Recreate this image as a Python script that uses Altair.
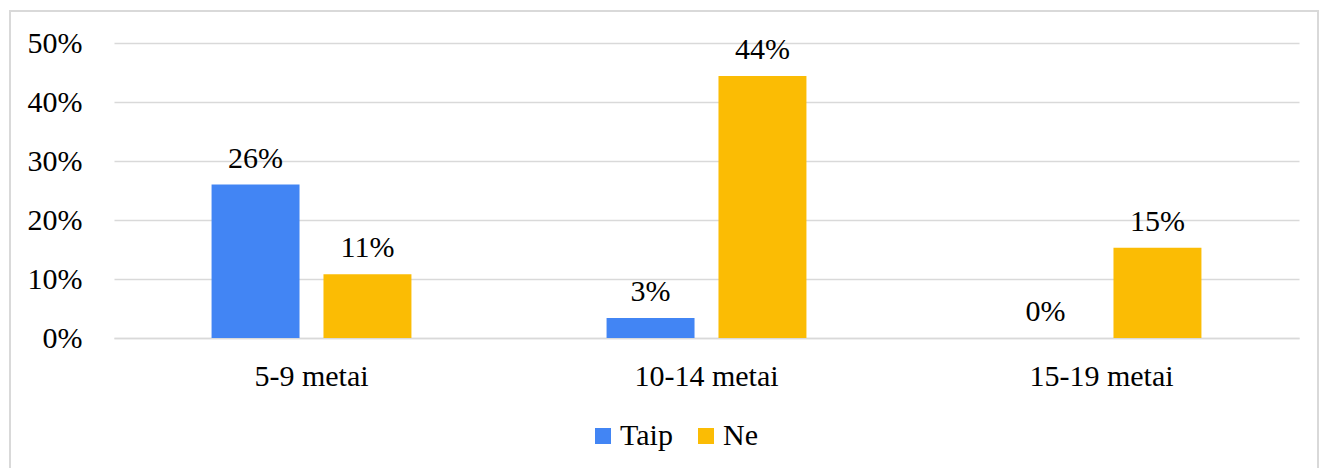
import altair as alt
import pandas as pd

categories = ["5-9 metai", "10-14 metai", "15-19 metai"]
series = ["Taip", "Ne"]
taip = [0.26, 0.034, 0.0]
ne = [0.108, 0.444, 0.153]
labels_taip = ["26%", "3%", "0%"]
labels_ne = ["11%", "44%", "15%"]
colors = ["#4285F4", "#FBBC04"]

rows = []
for i, c in enumerate(categories):
    rows.append({"cat": c, "series": "Taip", "value": taip[i], "label": labels_taip[i]})
    rows.append({"cat": c, "series": "Ne", "value": ne[i], "label": labels_ne[i]})
df = pd.DataFrame(rows)

FONT = "Liberation Serif"
FS = 30

x = alt.X("cat:N", sort=categories, title=None,
          scale=alt.Scale(paddingInner=0.494, paddingOuter=0.247),
          axis=alt.Axis(labelAngle=0, labelFontSize=FS, labelFont=FONT, labelColor="black",
                        ticks=False, domain=True, domainColor="#d9d9d9", domainWidth=1.5,
                        labelPadding=23))
xo = alt.XOffset("series:N", sort=series,
                 scale=alt.Scale(paddingInner=0.214, paddingOuter=0))
y = alt.Y("value:Q", title=None,
          scale=alt.Scale(domain=[0, 0.5], nice=False),
          axis=alt.Axis(format=".0%", values=[0, 0.1, 0.2, 0.3, 0.4, 0.5],
                        labelFontSize=FS, labelFont=FONT, labelColor="black",
                        ticks=False, domain=False, gridColor="#d9d9d9", gridWidth=1.5,
                        labelPadding=32))

bars = alt.Chart(df).mark_bar().encode(
    x=x, xOffset=xo, y=y,
    color=alt.Color("series:N", sort=series,
                    scale=alt.Scale(domain=series, range=colors),
                    legend=alt.Legend(title=None, orient="none", direction="horizontal",
                                      legendX=474, legendY=378,
                                      symbolType="square", symbolSize=256,
                                      symbolStrokeWidth=0, labelFont=FONT,
                                      labelFontSize=FS, labelColor="black",
                                      labelOffset=2, columnPadding=18, padding=0)),
)

text = alt.Chart(df).mark_text(font=FONT, fontSize=FS, color="black",
                               baseline="alphabetic", dy=-17).encode(
    x=x, xOffset=xo, y=y, text="label:N"
)

border = alt.Chart(pd.DataFrame({"a": [1]})).mark_rect(
    fill=None, stroke="#d9d9d9", strokeWidth=2
).encode(
    x=alt.value(-104), x2=alt.value(1204), y=alt.value(-32), y2=alt.value(500)
)

chart = alt.layer(border, bars, text).properties(
    width=1185, height=295,
    autosize=alt.AutoSizeParams(type="none"),
    padding={"left": 114, "top": 43, "right": 20, "bottom": 130},
    background="white",
).configure_view(stroke=None)

chart.save("out.html", embed_options={"renderer": "svg", "actions": False})
